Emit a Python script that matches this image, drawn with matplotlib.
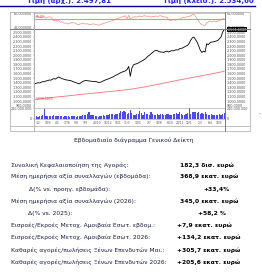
import matplotlib
matplotlib.use("Agg")
import matplotlib.pyplot as plt
import numpy as np

plt.rcParams['font.family'] = ['DejaVu Sans']

# weekly General Index closes
price = [1375, 1390, 1400, 1395, 1410, 1425, 1420, 1440,
         1445, 1460, 1455, 1475, 1490, 1480, 1505, 1525,
         1510, 1490, 1480, 1470, 1460, 1455, 1450, 1440,
         1425, 1410, 1400, 1385, 1375, 1400, 1425, 1440,
         1450, 1445, 1440, 1435, 1430, 1425, 1430, 1420,
         1405, 1410, 1420, 1440, 1455, 1470, 1480, 1495,
         1510, 1525, 1545, 1565, 1580, 1600, 1620, 1635,
         1645, 1660, 1690, 1755, 1540, 1720, 1790, 1805,
         1815, 1830, 1850, 1870, 1889, 1910, 1940, 1975,
         2000, 2030, 2060, 2090, 2107, 2100, 2080, 2070,
         2070, 2060, 2080, 2090, 2070, 2085, 2100, 2095,
         2110, 2120, 2115, 2143, 2150, 2160, 2180, 2200,
         2215, 2260, 2330, 2380, 2396, 2340, 2287, 2200,
         2107, 2060, 2090, 2070, 2252, 2230, 2270, 2287,
         2290, 2300, 2310, 2324, 2360, 2396, 2504, 2560]

# long moving average (red line)
ma_weeks = [0, 10, 20, 30, 40, 50, 60, 70, 80, 90, 100, 110, 119]
ma_vals = [1039, 1075, 1110, 1150, 1183, 1218, 1257, 1315, 1385, 1455, 1520, 1585, 1650]

# oscillator in the top panel
rsi = [56.0, 55.5, 56.5, 55.0, 54.5, 55.5, 56.0, 54.0, 55.0, 56.0,
       55.0, 53.0, 50.0, 51.0, 49.5, 50.5, 48.0, 49.0, 47.5, 46.5,
       47.0, 45.5, 46.5, 47.5, 48.0, 47.0, 46.0, 44.5, 45.0, 46.0,
       47.0, 46.5, 45.5, 46.0, 45.0, 44.5, 45.5, 46.0, 45.0, 44.5,
       44.0, 44.5, 45.5, 46.5, 47.0, 48.0, 48.5, 49.0, 50.0, 50.5,
       51.5, 52.5, 53.5, 54.0, 55.0, 56.0, 56.5, 57.5, 53.0, 58.0,
       53.0, 54.5, 55.5, 56.0, 55.5, 56.5, 57.0, 56.0, 57.0, 57.5,
       56.5, 57.0, 56.0, 55.5, 56.5, 56.0, 57.0, 56.5, 57.0, 57.5,
       56.5, 56.0, 55.5, 55.0, 52.5, 50.5, 51.0, 52.0, 51.0, 51.5,
       51.5, 52.5, 54.0, 55.0, 54.5, 55.5, 56.0, 56.5, 57.5, 58.5,
       59.5, 56.5, 53.0, 49.5, 46.0, 44.5, 44.0, 43.0, 47.5, 48.5,
       50.0, 49.0, 49.5, 50.0, 49.0, 49.5, 50.5, 51.5, 53.0, 54.0]
rsi_ref = 53

# weekly turnover, millions
volume = [60, 70, 55, 65, 75, 80, 220, 70, 60, 65,
          75, 70, 80, 60, 65, 70, 75, 60, 55, 65,
          70, 60, 55, 65, 70, 60, 55, 60, 65, 75,
          80, 85, 100, 120, 160, 90, 85, 80, 70, 60,
          55, 65, 70, 80, 75, 95, 100, 110, 120, 105,
          95, 110, 125, 140, 180, 150, 190, 170, 120, 130,
          210, 140, 100, 90, 110, 120, 180, 130, 100, 160,
          120, 110, 100, 150, 120, 90, 95, 110, 100, 120,
          110, 95, 100, 115, 105, 90, 100, 110, 120, 130,
          115, 150, 110, 95, 100, 105, 130, 240, 110, 160,
          150, 170, 140, 155, 120, 130, 110, 150, 125, 100,
          95, 110, 90, 85, 100, 80, 120, 95, 110, 130]

tick_weeks = [2, 8, 14, 20, 26, 32, 39, 46, 52, 58, 65, 72, 78, 85, 91, 97, 104, 110, 116]
tick_labels = ["3/2", "18/3", "4/5", "17/6", "5/8", "9/9", "28/10", "16/12", "16/1", "31/3",
               "19/5", "7/7", "18/8", "6/10", "24/11", "12/1", "2/3", "6/4", "18/5"]
price_ticks = list(range(900, 2600, 100))
rsi_ticks = [40, 60]

stats_labels = ["Συνολική Κεφαλαιοποίηση της Αγοράς:",
                "Μέση ημερήσια αξία συναλλαγών (εβδομάδα):",
                "Δ(% vs. προηγ. εβδομάδα):",
                "Μέση ημερήσια αξία συναλλαγών (2026):",
                "Δ(% vs. 2025):",
                "Εισροές/Εκροές Μετοχ. Αμοιβαία Εσωτ. εβδομ.:",
                "Εισροές/Εκροές Μετοχ. Αμοιβαία Εσωτ. 2026:",
                "Καθαρές αγορές/πωλήσεις Ξένων Επενδυτών Μαι.:",
                "Καθαρές αγορές/πωλήσεις Ξένων Επενδυτών 2026:"]
stats_values = ["182,3 δισ. ευρώ", "368,9 εκατ. ευρώ", "+33,4%", "345,0 εκατ. ευρώ",
                "+58,2 %", "+7,9 εκατ. ευρώ", "+134,2 εκατ. ευρώ", "+305,7 εκατ. ευρώ",
                "+205,6 εκατ. ευρώ"]

W, H = 262, 276
fig = plt.figure(figsize=(W / 100, H / 100), dpi=100)


def box(l, t, w, h):
    return [l / W, 1 - (t + h) / H, w / W, h / H]


def gr(v, nd=4):
    s = f"{v:,.{nd}f}"
    return s.replace(",", " ").replace(".", ",").replace(" ", ".")


def style(ax):
    ax.set_xlim(-0.5, len(price) - 0.5)
    ax.tick_params(axis='y', labelsize=2.4, labelcolor='#555555', color='#777777',
                   length=1, width=0.3, pad=0.5, left=True, right=True,
                   labelleft=True, labelright=True)
    ax.tick_params(axis='x', bottom=False, labelbottom=False)
    for s in ax.spines.values():
        s.set_color('#999999')
        s.set_linewidth(0.4)


weeks = np.arange(len(price))

# top oscillator panel
ax_r = fig.add_axes(box(34, 12.5, 191, 16.5))
ax_r.plot(weeks, rsi, color='#ff8a8a', lw=0.5)
ax_r.axhline(rsi_ref, color='#8a8aff', lw=0.6)
ax_r.set_ylim(38.5, 62)
ax_r.set_yticks(rsi_ticks)
ax_r.set_yticklabels([gr(v, 6) for v in rsi_ticks])
ax_r.text(0.5, rsi[0], gr(rsi[0], 2), color='#ff3030', fontsize=2.2, va='center')
style(ax_r)

# main price panel
ax_p = fig.add_axes(box(34, 29, 191, 78.5))
ax_p.plot(weeks, price, color='black', lw=0.6)
ax_p.plot(ma_weeks, ma_vals, color='#ff7070', lw=0.6)
ax_p.set_ylim(860, 2572)
ax_p.set_yticks(price_ticks)
ax_p.set_yticklabels([gr(v) for v in price_ticks])
ax_p.text(0.5, ma_vals[0], gr(ma_vals[0]), color='#ff3030', fontsize=2.2, va='center')
ax_p.text(1.012, price[-1], gr(price[-1] - 25.4), transform=ax_p.get_yaxis_transform(),
          color='white', fontsize=2.4, va='center',
          bbox=dict(boxstyle='square,pad=0.15', facecolor='black', edgecolor='none'))
style(ax_p)

# volume panel
ax_v = fig.add_axes(box(34, 108, 191, 11))
ax_v.bar(weeks, volume, width=0.75, color='#4a4af0')
ax_v.set_ylim(0, 250)
ax_v.set_yticks([0, 240])
ax_v.set_yticklabels(["0", "240.000.000"])
style(ax_v)
ax_v.tick_params(axis='x', bottom=True, labelbottom=True, labelsize=2.2,
                 labelcolor='#555555', length=0.8, width=0.3, pad=1, color='#777777')
ax_v.set_xticks(tick_weeks)
ax_v.set_xticklabels(tick_labels)

# frame lines around the chart, in pixel units
bg = fig.add_axes([0, 0, 1, 1], zorder=10)
bg.set_xlim(0, W)
bg.set_ylim(H, 0)
bg.axis('off')
bg.patch.set_alpha(0)
bg.plot([0, 255], [6, 6], color='#000080', lw=1.0)
bg.plot([10, 250, 250, 10, 10], [12, 12, 131, 131, 12], color='#aaaaaa', lw=0.5)
bg.plot([10, 250], [29, 29], color='#777777', lw=0.7)
bg.plot([10, 250], [125.5, 125.5], color='#aaaaaa', lw=0.5)
bg.plot([34, 34], [12, 131], color='#aaaaaa', lw=0.6)
bg.plot([225, 225], [12, 131], color='#777777', lw=0.7)
bg.text(259, 113, ".", fontsize=4, color='black', ha='center', va='center')

# blue header, cut off by the top edge as in the source image
fig.text(27 / W, 1 - 2.5 / H, "Τιμή (άρχ.): 2.497,81", color='#2020ff',
         fontsize=5, fontweight='bold', va='baseline')
fig.text(163 / W, 1 - 2.5 / H, "Τιμή (κλείσ.): 2.534,60", color='#2020ff',
         fontsize=5, fontweight='bold', va='baseline')

fig.text(134 / W, 1 - 140 / H, "Εβδομαδιαίο διάγραμμα Γενικού Δείκτη",
         fontsize=4.3, color='#1a1a40', ha='center', va='center')

rows_y = [165, 176.7, 189.3, 201.7, 213.3, 225, 237.3, 250.7, 262.3]
label_x = [11, 11, 29, 11, 28, 11, 11, 11, 11]
value_x = [180, 180, 203, 180, 198, 177, 177, 177, 177]
for lab, val, y, lx, vx in zip(stats_labels, stats_values, rows_y, label_x, value_x):
    fig.text(lx / W, 1 - y / H, lab, fontsize=4.3, color='#1a1a40', va='center')
    fig.text(vx / W, 1 - y / H, val, fontsize=4.3, color='black', fontweight='bold', va='center')

fig.savefig('out.png', dpi=100)
